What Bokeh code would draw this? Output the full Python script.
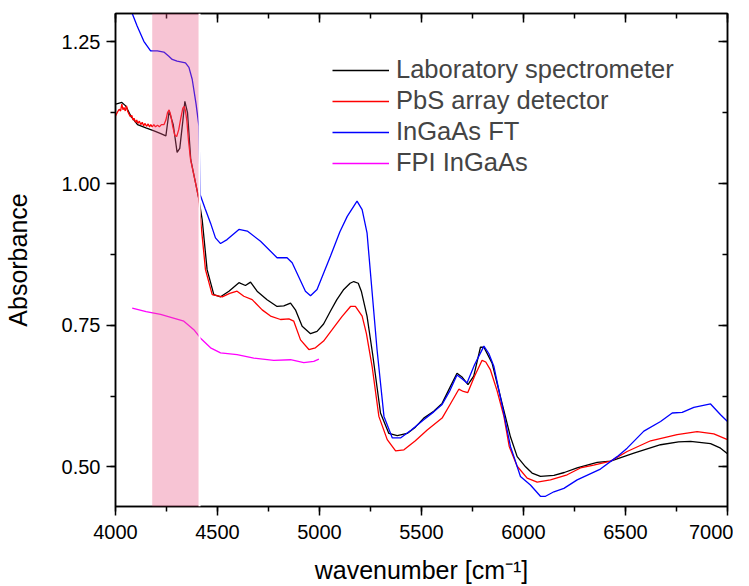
from bokeh.plotting import figure
from bokeh.models import (LinearAxis, FixedTicker, BoxAnnotation, Legend, LegendItem,
                          Range1d, Span, CustomJSTickFormatter, NumeralTickFormatter)
from bokeh.embed import file_html
from bokeh.resources import INLINE

# ---------------- data ----------------
lab_x = [4000, 4010, 4031, 4050, 4075, 4108, 4149, 4189, 4222, 4247, 4263, 4283, 4302, 4315,
         4330, 4340, 4353, 4369, 4390, 4409, 4425, 4449, 4482, 4515, 4556, 4605, 4637, 4662,
         4694, 4743, 4792, 4825, 4858, 4882, 4915, 4956, 4988, 5020, 5054, 5085, 5119, 5150,
         5168, 5190, 5205, 5233, 5260, 5299, 5340, 5381, 5430, 5470, 5511, 5560, 5601, 5642,
         5674, 5700, 5728, 5756, 5789, 5806, 5846, 5895, 5936, 5969, 6010, 6042, 6083, 6149,
         6200, 6263, 6361, 6427, 6541, 6672, 6760, 6819, 6917, 6966, 7000]
lab_y = [1.140, 1.141, 1.143, 1.137, 1.119, 1.104, 1.098, 1.093, 1.088, 1.084, 1.128, 1.104,
         1.055, 1.062, 1.110, 1.145, 1.125, 1.042, 1.005, 0.972, 0.936, 0.848, 0.804, 0.800,
         0.810, 0.825, 0.820, 0.826, 0.810, 0.795, 0.783, 0.784, 0.789, 0.777, 0.748, 0.735,
         0.739, 0.752, 0.775, 0.795, 0.813, 0.824, 0.827, 0.824, 0.810, 0.766, 0.700, 0.595,
         0.559, 0.555, 0.559, 0.570, 0.586, 0.598, 0.612, 0.642, 0.665, 0.658, 0.645, 0.660,
         0.711, 0.711, 0.683, 0.612, 0.553, 0.518, 0.500, 0.489, 0.483, 0.485, 0.490, 0.498,
         0.508, 0.510, 0.524, 0.539, 0.544, 0.545, 0.541, 0.533, 0.523]

pbs_x = [4000, 4008, 4018, 4025, 4031, 4037, 4042, 4048, 4054, 4060, 4067, 4073, 4080, 4086,
         4091, 4098, 4104, 4110, 4117, 4124, 4131, 4138, 4145, 4152, 4160, 4167, 4173, 4180,
         4188, 4196, 4206, 4215, 4225, 4238, 4247, 4255, 4263, 4271, 4281, 4291, 4300, 4310,
         4320, 4330, 4337, 4343, 4350, 4358, 4368, 4390, 4409, 4417, 4441, 4474, 4523, 4560,
         4596, 4629, 4670, 4719, 4760, 4809, 4850, 4874, 4907, 4948, 4980, 5020, 5062, 5110,
         5152, 5176, 5209, 5230, 5258, 5291, 5332, 5373, 5414, 5470, 5528, 5601, 5640, 5683,
         5705, 5727, 5760, 5797, 5815, 5838, 5870, 5904, 5930, 5969, 6018, 6067, 6132, 6214,
         6279, 6344, 6427, 6508, 6623, 6753, 6851, 6933, 7000]
pbs_y = [1.119, 1.125, 1.131, 1.128, 1.140, 1.130, 1.134, 1.128, 1.137, 1.127, 1.122, 1.118,
         1.120, 1.112, 1.115, 1.108, 1.112, 1.106, 1.110, 1.104, 1.108, 1.102, 1.106, 1.101,
         1.105, 1.100, 1.104, 1.100, 1.104, 1.100, 1.103, 1.100, 1.104, 1.104, 1.112, 1.125,
         1.130, 1.120, 1.100, 1.085, 1.083, 1.095, 1.115, 1.133, 1.136, 1.128, 1.110, 1.075,
         1.042, 1.005, 0.972, 0.936, 0.848, 0.804, 0.800, 0.806, 0.810, 0.801, 0.795, 0.777,
         0.766, 0.760, 0.761, 0.757, 0.724, 0.707, 0.710, 0.722, 0.742, 0.765, 0.783, 0.783,
         0.766, 0.735, 0.677, 0.589, 0.548, 0.528, 0.530, 0.546, 0.565, 0.586, 0.610, 0.637,
         0.633, 0.631, 0.660, 0.688, 0.685, 0.671, 0.635, 0.589, 0.536, 0.501, 0.480, 0.473,
         0.477, 0.486, 0.498, 0.503, 0.510, 0.527, 0.546, 0.557, 0.562, 0.558, 0.548]

ft_x = [4040, 4060, 4082, 4106, 4139, 4172, 4205, 4237, 4260, 4278, 4302, 4343, 4360, 4376,
        4395, 4409, 4415, 4440, 4466, 4490, 4515, 4547, 4605, 4646, 4711, 4792, 4841, 4866,
        4931, 4956, 4988, 5054, 5100, 5136, 5184, 5209, 5233, 5282, 5316, 5357, 5397, 5450,
        5511, 5560, 5601, 5640, 5674, 5700, 5723, 5760, 5806, 5830, 5855, 5900, 5936, 5953,
        5985, 6034, 6083, 6108, 6149, 6198, 6263, 6377, 6459, 6508, 6590, 6672, 6729, 6778,
        6835, 6917, 6966, 7000]
ft_y = [1.380, 1.330, 1.300, 1.278, 1.251, 1.234, 1.234, 1.232, 1.225, 1.219, 1.216, 1.213,
        1.205, 1.184, 1.140, 1.101, 0.980, 0.955, 0.930, 0.904, 0.894, 0.901, 0.919, 0.916,
        0.898, 0.869, 0.869, 0.860, 0.810, 0.802, 0.813, 0.872, 0.915, 0.942, 0.969, 0.954,
        0.913, 0.707, 0.589, 0.551, 0.551, 0.565, 0.583, 0.597, 0.610, 0.635, 0.662, 0.655,
        0.648, 0.680, 0.713, 0.700, 0.677, 0.600, 0.536, 0.518, 0.483, 0.468, 0.448, 0.448,
        0.456, 0.462, 0.477, 0.496, 0.518, 0.533, 0.563, 0.580, 0.595, 0.596, 0.605, 0.611,
        0.592, 0.580]

fpi_x = [4082, 4150, 4221, 4280, 4335, 4384, 4417, 4466, 4515, 4596, 4678, 4776, 4858, 4923,
         4972, 4997]
fpi_y = [0.780, 0.774, 0.769, 0.763, 0.757, 0.742, 0.727, 0.710, 0.701, 0.698, 0.692, 0.688,
         0.689, 0.684, 0.686, 0.690]

series_names = ["Laboratory spectrometer", "PbS array detector", "InGaAs FT", "FPI InGaAs"]
band_range = [4180, 4410]
x_ticks = [4000, 4500, 5000, 5500, 6000, 6500, 7000]
y_ticks = [0.50, 0.75, 1.00, 1.25]

FONT = "Liberation Sans"

p = figure(output_backend="svg", toolbar_location=None,
           frame_width=612, frame_height=493,
           x_range=Range1d(4000, 7000), y_range=Range1d(0.43, 1.30),
           min_border_left=10, min_border_right=6, min_border_top=13, min_border_bottom=10,
           background_fill_color="white", border_fill_color="white")
p.grid.visible = False
p.outline_line_color = "black"
p.outline_line_width = 1.5

xt = FixedTicker(ticks=x_ticks, minor_ticks=list(range(4000, 7001, 250)))
yt = FixedTicker(ticks=y_ticks, minor_ticks=[0.5 + 0.125 * i for i in range(7)])

def style(ax, inward):
    ax.axis_line_color = "black"
    ax.axis_line_width = 1.5
    ax.major_tick_line_width = 1.5
    ax.minor_tick_line_width = 1.5
    if inward:
        ax.major_tick_in, ax.major_tick_out = 9, 0
        ax.minor_tick_in, ax.minor_tick_out = 5, 0
    else:
        ax.major_tick_in, ax.major_tick_out = 0, 9
        ax.minor_tick_in, ax.minor_tick_out = 0, 5
    ax.major_label_text_font = FONT
    ax.major_label_text_font_size = "20px"
    ax.major_label_text_color = "black"
    ax.axis_label_text_font = FONT
    ax.axis_label_text_font_size = "25px"
    ax.axis_label_text_font_style = "normal"
    ax.axis_label_text_color = "black"

xa = p.xaxis[0]
xa.ticker = xt
xa.axis_label = "wavenumber [cm\u207b\u00b9]"
style(xa, False)
xa.major_label_standoff = 9
xa.axis_label_standoff = 14

ya = p.yaxis[0]
ya.ticker = yt
ya.formatter = NumeralTickFormatter(format="0.00")
ya.axis_label = "Absorbance"
style(ya, False)
ya.major_label_standoff = 6
ya.axis_label_standoff = 27

blank = CustomJSTickFormatter(code="return ''")
top = LinearAxis(ticker=xt, formatter=blank)
style(top, True)
top.major_label_standoff = 0
p.add_layout(top, "above")
right = LinearAxis(ticker=yt, formatter=blank)
style(right, True)
right.major_label_standoff = 0
p.add_layout(right, "right")

r_lab = p.line(lab_x, lab_y, line_color="black", line_width=1.3)
r_pbs = p.line(pbs_x, pbs_y, line_color="#ff0000", line_width=1.3)
r_ft = p.line(ft_x, ft_y, line_color="#0000ff", line_width=1.3)
r_fpi = p.line(fpi_x, fpi_y, line_color="#ff00ff", line_width=1.3)

band = BoxAnnotation(left=band_range[0], right=band_range[1],
                     fill_color=(232, 87, 132), fill_alpha=0.35, line_alpha=0)
p.add_layout(band)
p.add_layout(Span(location=band_range[1] + 2, dimension="height",
                  line_color="white", line_width=2))

legend = Legend(items=[LegendItem(label=n, renderers=[r]) for n, r in
                       zip(series_names, [r_lab, r_pbs, r_ft, r_fpi])],
                location=(217, 329), background_fill_alpha=0, border_line_alpha=0,
                label_text_font=FONT, label_text_font_size="25.5px",
                glyph_width=57, glyph_height=26, label_height=26, label_standoff=7,
                spacing=2, padding=0, margin=0)
p.add_layout(legend)

open("out.html", "w").write(file_html(p, INLINE))
